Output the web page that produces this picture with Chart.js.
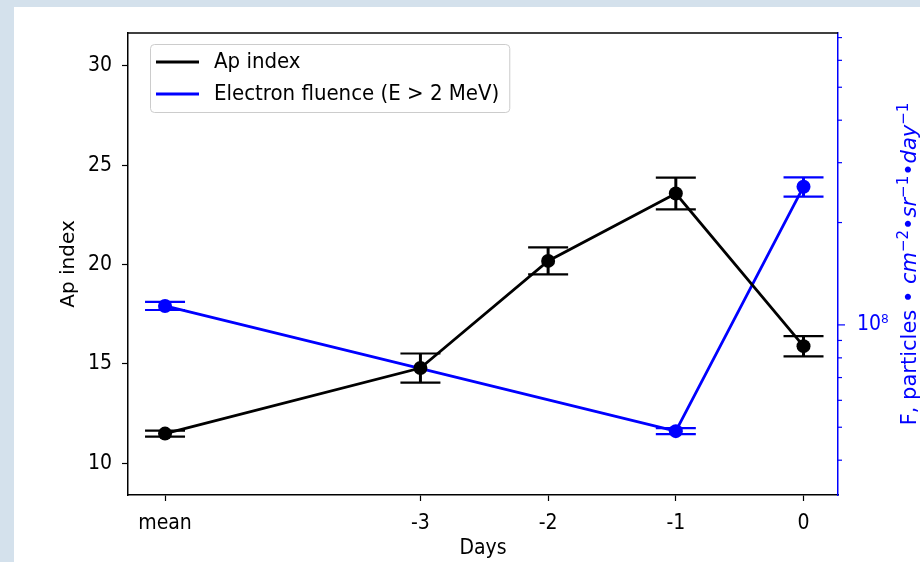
<!DOCTYPE html>
<html>
<head>
<meta charset="utf-8">
<script src="https://cdn.jsdelivr.net/npm/chart.js@4"></script>
<style>
html,body{margin:0;padding:0;background:#d4e1ec;width:920px;height:562px;overflow:hidden;}
#wrap{position:absolute;left:14px;top:7px;width:906px;height:555px;background:#fff;}
</style>
</head>
<body>
<div id="wrap"><canvas id="apChart" width="906" height="555"></canvas></div>
<script>
// days before event, "mean" sits two days left of -3
let days = [-5,-3,-2,-1,0];
let dayLabels = ["mean","-3","-2","-1","0"];

let apIndex = [11.49,14.79,20.18,23.57,15.89];
let apErr = [0.15,0.73,0.68,0.8,0.51];

let fluence = [1.137e8,null,null,4.87e7,2.55e8];
let fluenceErr = [3.1e6,null,null,1.0e6,1.65e7];

let apTicks = [10,15,20,25,30];
let fluenceTicks = [4e7,5e7,6e7,7e7,8e7,9e7,1e8,2e8,3e8,4e8,5e8,6e8,7e8];

const FONT = "'DejaVu Sans Condensed','DejaVu Sans',sans-serif";
const VFONT = "'DejaVu Sans',sans-serif";
const FS = 21;

function pts(vals){
return days.map((d,i)=>({x:d,y:vals[i]}));
}

const errorBars = {
id:'errorBars',
afterDatasetsDraw(chart){
const ctx = chart.ctx;
const xs = chart.scales.x;
chart.data.datasets.forEach(ds=>{
const ys = chart.scales[ds.yAxisID];
ctx.save();
ctx.strokeStyle = ds.borderColor;
ds.data.forEach((p,j)=>{
if(p.y==null) return;
let e = ds.errors[j];
let px = xs.getPixelForValue(p.x);
let top = ys.getPixelForValue(p.y+e);
let bot = ys.getPixelForValue(p.y-e);
ctx.lineWidth = 3;
ctx.beginPath();
ctx.moveTo(px,top);ctx.lineTo(px,bot);
ctx.stroke();
ctx.lineWidth = 2.2;
ctx.beginPath();
ctx.moveTo(px-20,top);ctx.lineTo(px+20,top);
ctx.moveTo(px-20,bot);ctx.lineTo(px+20,bot);
ctx.stroke();
});
ctx.restore();
});
}
};

const frame = {
id:'frame',
afterDraw(chart){
const ctx = chart.ctx;
const a = chart.chartArea;
ctx.save();
// top spine
ctx.strokeStyle = '#000';
ctx.lineWidth = 1.5;
ctx.beginPath();
ctx.moveTo(a.left,a.top);ctx.lineTo(a.right,a.top);
ctx.stroke();
// right log axis ticks, major longer than minor
const r = chart.scales.y1;
ctx.strokeStyle = '#0000ff';
ctx.lineWidth = 1.2;
r.ticks.forEach(t=>{
let py = r.getPixelForValue(t.value);
let len = t.value===1e8 ? 7 : 4;
ctx.beginPath();
ctx.moveTo(a.right,py);ctx.lineTo(a.right+len,py);
ctx.stroke();
});
ctx.restore();
}
};

const rightTitle = {
id:'rightTitle',
afterDraw(chart){
const ctx = chart.ctx;
const a = chart.chartArea;
const norm = FS+"px "+VFONT;
const ital = "oblique "+FS+"px "+VFONT;
const sup = Math.round(FS*0.7)+"px "+VFONT;
const parts = [
["F, particles • ",norm,0],
["cm",ital,0],["−2",sup,-8],["•",norm,0],
["sr",ital,0],["−1",sup,-8],["•",norm,0],
["day",ital,0],["−1",sup,-8]
];
ctx.save();
ctx.fillStyle = '#0000ff';
ctx.textBaseline = 'alphabetic';
let total = 0;
parts.forEach(p=>{ctx.font=p[1];total+=ctx.measureText(p[0]).width;});
ctx.translate(902,(a.top+a.bottom)/2);
ctx.rotate(-Math.PI/2);
let u = -total/2;
parts.forEach(p=>{
ctx.font = p[1];
ctx.fillText(p[0],u,p[2]);
u += ctx.measureText(p[0]).width;
});
ctx.restore();
}
};

const boxLegend = {
id:'boxLegend',
afterDraw(chart){
const ctx = chart.ctx;
const a = chart.chartArea;
const x0 = a.left+22, y0 = a.top+11;
ctx.save();
ctx.font = "22px "+FONT;
let w = 0;
chart.data.datasets.forEach(ds=>{w=Math.max(w,ctx.measureText(ds.label).width);});
const bw = 64+w+10, bh = 68;
ctx.fillStyle = 'rgba(255,255,255,0.8)';
ctx.strokeStyle = '#cccccc';
ctx.lineWidth = 1;
ctx.beginPath();
ctx.roundRect(x0+0.5,y0+0.5,bw,bh,4);
ctx.fill();ctx.stroke();
ctx.textBaseline = 'middle';
chart.data.datasets.forEach((ds,i)=>{
let yy = y0+18+i*32;
ctx.strokeStyle = ds.borderColor;
ctx.lineWidth = 2.8;
ctx.beginPath();
ctx.moveTo(x0+6,yy);ctx.lineTo(x0+49,yy);
ctx.stroke();
ctx.fillStyle = '#000';
ctx.fillText(ds.label,x0+64,yy);
});
ctx.restore();
}
};

new Chart(document.getElementById("apChart"),{
type:'line',
data:{
datasets:[{
label:"Ap index",
data:pts(apIndex),
errors:apErr,
yAxisID:'y',
borderColor:'#000000',
backgroundColor:'#000000',
borderWidth:2.8,
pointRadius:7,
pointBorderWidth:0,
pointBackgroundColor:'#000000'
},{
label:"Electron fluence (E > 2 MeV)",
data:pts(fluence),
errors:fluenceErr,
yAxisID:'y1',
spanGaps:true,
borderColor:'#0000ff',
backgroundColor:'#0000ff',
borderWidth:2.8,
pointRadius:7,
pointBorderWidth:0,
pointBackgroundColor:'#0000ff'
}]
},
options:{
responsive:false,
animation:false,
events:[],
layout:{padding:{left:0,right:0,top:26,bottom:0}},
plugins:{legend:{display:false},tooltip:{enabled:false}},
scales:{
x:{
type:'linear',
min:-5.29,max:0.27,
afterBuildTicks:s=>{s.ticks=days.map(v=>({value:v}));},
afterFit:s=>{s.height=67;},
grid:{drawOnChartArea:false,tickLength:6,color:'#000',tickWidth:1.2},
border:{color:'#000',width:1.5},
ticks:{autoSkip:false,maxRotation:0,padding:10,color:'#000',font:{family:FONT,size:FS},
callback:v=>dayLabels[days.indexOf(v)]},
title:{display:true,text:"Days",color:'#000',font:{family:FONT,size:FS},padding:{top:0,bottom:1}}
},
y:{
position:'left',
min:8.4,max:31.65,
afterBuildTicks:s=>{s.ticks=apTicks.map(v=>({value:v}));},
afterFit:s=>{s.width=114;},
grid:{drawOnChartArea:false,tickLength:6,color:'#000',tickWidth:1.2},
border:{color:'#000',width:1.5},
ticks:{padding:10,color:'#000',font:{family:FONT,size:FS}},
title:{display:true,text:"Ap index",color:'#000',font:{family:VFONT,size:20},padding:{top:43,bottom:0}}
},
y1:{
type:'logarithmic',
position:'right',
min:3.16e7,max:7.22e8,
afterBuildTicks:s=>{s.ticks=fluenceTicks.map(v=>({value:v}));},
afterFit:s=>{s.width=82;},
grid:{drawOnChartArea:false,drawTicks:true,tickLength:7,tickColor:'rgba(0,0,0,0)'},
border:{color:'#0000ff',width:1.5},
ticks:{autoSkip:false,padding:12,color:'#0000ff',font:{family:FONT,size:FS},
callback:v=>v===1e8?"10⁸":""}
}
}
},
plugins:[errorBars,frame,rightTitle,boxLegend]
});
</script>
</body>
</html>
